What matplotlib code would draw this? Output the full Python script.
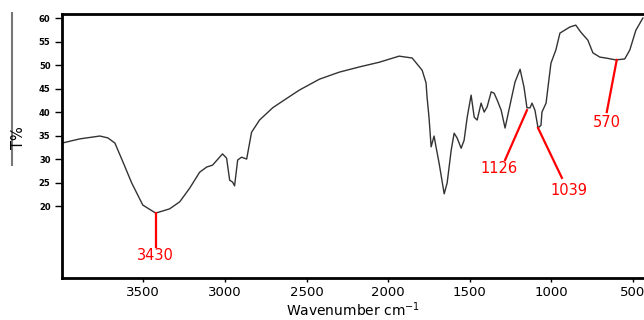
import numpy as np
import matplotlib
matplotlib.use("Agg")
import matplotlib.pyplot as plt
from matplotlib.lines import Line2D

# FTIR spectrum
wavenumber = [3998, 3888, 3766, 3717, 3674, 3625, 3571, 3503, 3424, 3339,
              3277, 3216, 3155, 3112, 3076, 3015, 2990, 2971, 2953, 2941,
              2922, 2898, 2867, 2837, 2788, 2708, 2635, 2543, 2421, 2299,
              2177, 2055, 1933, 1853, 1792, 1768, 1762, 1750, 1737, 1719,
              1707, 1688, 1657, 1639, 1614, 1596, 1578, 1553, 1535, 1516,
              1492, 1473, 1455, 1431, 1412, 1394, 1369, 1351, 1333, 1308,
              1284, 1247, 1223, 1192, 1168, 1150, 1131, 1119, 1101, 1082,
              1064, 1058, 1033, 1003, 973, 948, 887, 851, 820, 777,
              746, 704, 667, 606, 551, 520, 483, 440]
transmittance = [33.4, 34.3, 34.9, 34.5, 33.4, 29.4, 24.9, 20.2, 18.5, 19.4,
                 20.9, 23.8, 27.2, 28.3, 28.7, 31.1, 30.2, 25.5, 25.1, 24.3,
                 29.8, 30.4, 30.0, 35.7, 38.3, 40.9, 42.6, 44.7, 47.0, 48.5,
                 49.6, 50.6, 51.9, 51.5, 48.9, 46.2, 43.2, 38.9, 32.6, 34.9,
                 32.6, 29.1, 22.6, 24.9, 31.9, 35.5, 34.5, 32.3, 34.0, 38.9,
                 43.6, 38.9, 38.3, 41.9, 40.0, 41.1, 44.3, 44.0, 42.6, 40.4,
                 36.6, 42.6, 46.4, 49.1, 45.3, 40.9, 40.9, 41.9, 40.4, 36.6,
                 37.2, 40.0, 41.9, 50.4, 53.2, 56.8, 58.1, 58.5, 57.0, 55.3,
                 52.6, 51.7, 51.5, 51.1, 51.3, 53.2, 57.4, 60.0]

# peak labels: text, point on curve, end of the red line, label position
peak_labels = ["3430", "1126", "1039", "570"]
peak_xy = [(3424, 18.5), (1150, 40.4), (1082, 36.6), (600, 51.1)]
peak_line_end = [(3424, 11.3), (1284, 29.8), (936, 26.0), (661, 40.0)]
peak_text_xy = [(3424, 9.4), (1321, 28.0), (893, 23.3), (661, 37.8)]

y_ticks = [20, 25, 30, 35, 40, 45, 50, 55, 60]

fig = plt.figure(figsize=(6.44, 3.20), dpi=100)
ax = fig.add_axes([0.0958, 0.132, 0.9042, 0.824])

ax.plot(wavenumber, transmittance, color="#333333", lw=1.0)

for lab, p, e, t in zip(peak_labels, peak_xy, peak_line_end, peak_text_xy):
    ax.plot([p[0], e[0]], [p[1], e[1]], color="red", lw=1.6)
    ax.text(t[0], t[1], lab, color="red", fontsize=10.5,
            ha="center", va="center")

ax.set_xlim(4000, 433)
ax.set_ylim(4.74, 60.85)
ax.set_xticks([3500, 3000, 2500, 2000, 1500, 1000, 500])
ax.set_yticks(y_ticks)
ax.set_yticklabels([str(v) for v in y_ticks], fontsize=6, fontweight="bold")
ax.tick_params(axis="x", labelsize=9.5, length=3, width=1, pad=3)
ax.tick_params(axis="y", length=5, width=1, pad=3)
for s in ["left", "bottom", "top"]:
    ax.spines[s].set_linewidth(2)
ax.spines["right"].set_visible(False)

ax.set_xlabel("Wavenumber cm$^{-1}$", fontsize=10, labelpad=1)
fig.text(0.028, 0.57, "T%", rotation=90, fontsize=10.5, ha="center", va="center")
fig.add_artist(Line2D([0.0186, 0.0186], [0.959, 0.484], color="#777777", lw=1.5))

fig.savefig("out.png", dpi=100)
